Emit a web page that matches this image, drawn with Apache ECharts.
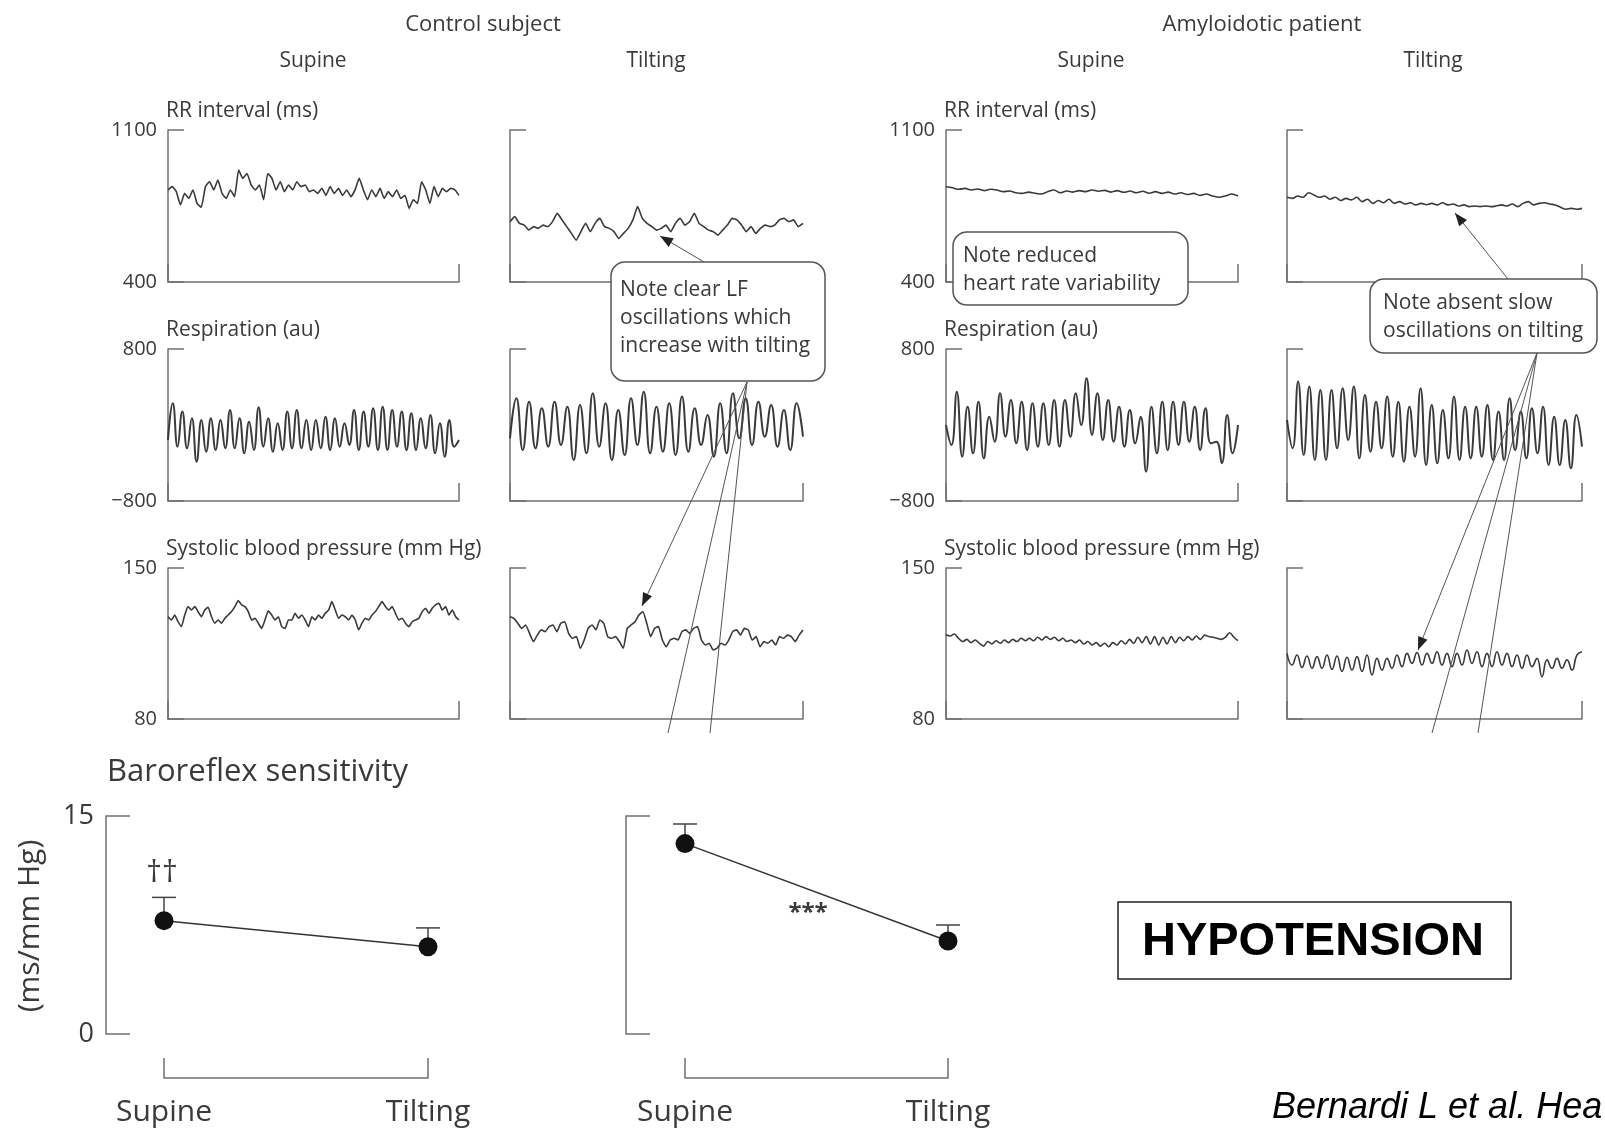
<!DOCTYPE html>
<html>
<head>
<meta charset="utf-8">
<script src="https://cdn.jsdelivr.net/npm/echarts@6/dist/echarts.min.js"></script>
<style>
html,body{margin:0;padding:0;background:#fff;}
#chart{width:1605px;height:1128px;}
</style>
</head>
<body>
<div id="chart"></div>
<script>
// ---- traces (evenly spaced samples) ----
// RR interval, ms
var rrControlSupine = [824,839,816,755,808,785,824,762,744,839,862,824,870,808,785,824,793,916,877,900,847,824,847,779,900,877,824,862,816,847,824,862,839,847,816,824,808,831,799,839,808,831,799,824,793,824,877,824,779,824,793,831,785,816,793,824,785,799,739,779,762,862,824,762,839,793,831,816,831,824,799];
var rrControlTilt = [678,701,670,662,639,655,647,662,655,678,716,686,655,624,593,632,670,632,670,693,655,647,632,601,624,647,686,747,693,670,655,639,647,662,632,670,693,662,678,716,670,655,639,632,616,639,662,693,686,662,632,655,624,647,662,655,662,686,693,678,686,655,670];
var rrAmyloidSupine = [839,834,827,831,824,828,821,827,824,816,819,811,808,814,809,805,816,824,811,819,814,821,816,824,818,822,814,821,813,819,811,818,809,816,808,814,805,811,803,808,799,805,796,790,796,805,796];
var rrAmyloidTilt = [790,785,796,790,811,801,790,796,781,790,775,785,778,790,770,781,762,775,765,781,762,770,759,765,755,762,756,762,755,765,755,759,750,755,747,750,747,750,747,750,755,750,759,747,762,770,755,762,765,759,755,744,735,739,735,739];
// respiration, au (peaks and troughs)
var respControlSupine = [-158,228,-228,141,-245,71,-386,53,-281,71,-263,53,-245,158,-245,71,-298,35,-263,186,-228,71,-281,18,-263,141,-245,158,-245,53,-263,53,-245,88,-263,71,-228,18,-210,158,-263,141,-228,176,-263,193,-263,158,-228,141,-263,123,-263,71,-245,106,-298,18,-333,53,-228,-158];
var respControlTilt = [-140,281,-263,246,-245,176,-228,246,-210,193,-368,211,-298,334,-228,228,-368,158,-316,281,-210,351,-298,193,-281,228,-316,299,-281,176,-210,106,-333,228,-298,334,-140,281,-210,246,-123,211,-228,158,-263,228,-123];
var respAmyloidSupine = [0,-210,351,-333,193,-298,246,-351,88,-175,334,-123,264,-193,246,-263,228,-228,228,-210,264,-228,264,-123,334,0,492,-105,334,-158,264,-175,193,-228,158,-193,88,-491,193,-298,246,-263,246,-210,246,-175,193,-263,176,-193,-175,-403,106,-298,0];
var respAmyloidTilt = [53,-245,457,-316,404,-368,369,-368,369,-245,386,-158,404,-351,316,-281,246,-245,299,-333,246,-386,193,-333,386,-421,211,-403,158,-351,299,-368,193,-351,193,-333,211,-368,141,-368,281,-263,141,-351,176,-298,193,-421,88,-421,53,-456,106,-228];
// systolic blood pressure, mmHg
var sbpControlSupine = [127.4,125.9,128.2,125.1,122.8,128.2,132.1,130.5,132.1,129.8,127.4,130.5,131.8,127.4,124.4,125.9,124.4,126.7,128.2,129.8,132.1,134.9,132.9,132.1,129.8,125.9,126.7,124.4,122.0,125.9,130.2,128.2,125.9,127.4,122.8,122.0,125.9,125.9,129.0,126.7,128.2,125.9,122.8,127.4,125.9,128.2,126.7,129.0,130.5,134.4,130.5,126.7,128.2,127.4,125.9,128.2,125.9,121.3,124.4,126.7,125.9,128.2,129.8,132.1,134.4,132.1,130.5,132.1,129.0,125.9,126.7,124.4,122.8,125.1,125.9,126.7,129.8,131.3,129.0,131.3,132.9,133.6,130.5,132.1,128.2,130.5,127.4,125.9];
var sbpControlTilt = [127.4,126.7,124.4,122.0,123.6,119.7,115.9,118.9,121.3,120.5,122.8,123.6,120.5,124.4,125.1,119.7,117.4,118.2,112.8,116.6,122.0,123.6,121.3,125.9,124.4,118.2,117.4,118.2,115.9,112.8,122.0,123.6,125.1,128.2,129.8,124.4,118.2,122.0,122.8,116.6,113.5,116.6,117.4,116.6,120.5,121.3,119.7,122.0,122.8,116.6,114.3,115.1,112.0,112.8,115.1,114.3,116.6,120.5,121.3,118.9,122.0,121.3,116.6,118.2,113.5,115.9,115.1,116.6,114.3,118.2,117.4,118.9,118.2,115.9,118.9,121.3];
var sbpAmyloidSupine = [118.9,118.5,119.4,117.4,115.9,116.9,115.4,116.6,115.1,113.8,115.9,114.8,116.3,115.1,116.6,115.4,116.9,115.9,117.4,116.3,117.4,116.3,117.9,116.6,118.2,116.9,117.9,116.3,117.4,115.9,116.6,115.4,116.6,114.8,115.9,114.3,115.4,113.8,115.1,113.5,115.4,114.3,116.3,114.8,116.9,115.1,117.9,115.4,118.2,114.8,118.2,114.3,117.9,114.8,118.2,115.4,117.9,116.3,118.2,116.6,118.5,116.9,118.9,118.2,117.9,117.4,116.9,117.9,120.0,117.9,116.3];
var sbpAmyloidTilt = [110.4,105.0,109.7,103.9,109.2,103.5,108.9,103.5,109.7,103.0,109.2,102.0,108.6,102.7,108.9,102.0,109.7,100.4,108.1,102.7,108.1,103.5,109.7,104.3,110.4,105.8,110.8,105.0,110.4,105.8,111.2,105.0,110.4,104.3,110.4,105.0,112.0,105.8,111.2,104.3,110.4,104.3,111.2,105.0,110.4,104.3,109.7,103.5,109.7,104.3,108.1,99.6,107.4,103.5,108.1,103.5,107.4,102.7,109.7,111.2];

// axis ranges and labels
var traceNames = ['RR interval (ms)', 'Respiration (au)', 'Systolic blood pressure (mm Hg)'];
var traceMin = [400, -800, 80];
var traceMax = [1100, 800, 150];

// baroreflex sensitivity (ms/mm Hg), mean and upper error
var brsCategories = ['Supine', 'Tilting'];
var brsLeftMean = [7.8, 6.0];
var brsLeftErr = [1.6, 1.3];
var brsRightMean = [13.1, 6.4];
var brsRightErr = [1.35, 1.1];

// ---- layout ----
var INK = '#3a3a3a', AX = '#707070', FONT = '"Open Sans"';
var cols = [{l:168,r:459},{l:510,r:803},{l:946,r:1238},{l:1287,r:1582}];
var rows = [{t:130,b:282},{t:349,b:501},{t:568,b:719}];
var traces = [
  [rrControlSupine, rrControlTilt, rrAmyloidSupine, rrAmyloidTilt],
  [respControlSupine, respControlTilt, respAmyloidSupine, respAmyloidTilt],
  [sbpControlSupine, sbpControlTilt, sbpAmyloidSupine, sbpAmyloidTilt]
];
var smoothing = [[0.15,0.15,0.3,0.3],[0.5,0.5,0.5,0.5],[0.15,0.15,0.3,0.5]];
var widths = [1.6, 2, 1.6];

var grids = [], xAxes = [], yAxes = [], series = [], gfx = [];

function tickText(v){ return String(v).replace('-', '\u2212'); }

rows.forEach(function(rw, r){
  cols.forEach(function(cl, c){
    var i = grids.length, arr = traces[r][c];
    grids.push({left:cl.l, top:rw.t, width:cl.r-cl.l, height:rw.b-rw.t});
    xAxes.push({gridIndex:i, type:'value', min:0, max:arr.length-1, interval:arr.length-1,
      axisLine:{show:true, onZero:false, lineStyle:{color:AX, width:1.5}},
      axisTick:{show:true, inside:true, length:18, lineStyle:{color:AX, width:1.5}},
      axisLabel:{show:false}, splitLine:{show:false}});
    yAxes.push({gridIndex:i, type:'value', min:traceMin[r], max:traceMax[r], interval:traceMax[r]-traceMin[r],
      axisLine:{show:true, onZero:false, lineStyle:{color:AX, width:1.5}},
      axisTick:{show:true, inside:true, length:16, lineStyle:{color:AX, width:1.5}},
      axisLabel:{show:(c===0||c===2), color:INK, fontFamily:FONT, fontSize:20, margin:11, formatter:tickText},
      splitLine:{show:false}});
    series.push({type:'line', xAxisIndex:i, yAxisIndex:i, symbol:'none', smooth:smoothing[r][c],
      lineStyle:{color:INK, width:widths[r]}, silent:true,
      data:arr.map(function(v,k){return [k,v];})});
    if(c===0||c===2){
      gfx.push({type:'text', x:cl.l-2, y:rw.t-19, z:50,
        style:{text:traceNames[r], fill:INK, font:'21px '+FONT, textVerticalAlign:'middle'}});
    }
  });
});

// baroreflex panels
var brsPanels = [
  {left:164, width:264, offset:58, mean:brsLeftMean, err:brsLeftErr, labels:true},
  {left:685, width:263, offset:59, mean:brsRightMean, err:brsRightErr, labels:false}
];
brsPanels.forEach(function(p){
  var i = grids.length;
  grids.push({left:p.left, top:816, width:p.width, height:218});
  xAxes.push({gridIndex:i, type:'value', min:0, max:1, interval:1, offset:44,
    axisLine:{show:true, onZero:false, lineStyle:{color:AX, width:1.5}},
    axisTick:{show:true, inside:true, length:20, lineStyle:{color:AX, width:1.5}},
    axisLabel:{color:INK, fontFamily:FONT, fontSize:30, margin:19,
      formatter:function(v){return brsCategories[v];}},
    splitLine:{show:false}});
  yAxes.push({gridIndex:i, type:'value', min:0, max:15, interval:15, offset:p.offset,
    axisLine:{show:true, onZero:false, lineStyle:{color:AX, width:1.5}},
    axisTick:{show:true, inside:true, length:24, lineStyle:{color:AX, width:1.5}},
    axisLabel:{show:p.labels, color:INK, fontFamily:FONT, fontSize:27, margin:12},
    splitLine:{show:false}});
  series.push({type:'custom', xAxisIndex:i, yAxisIndex:i, clip:false, silent:true, z:2,
    data:p.mean.map(function(m,k){return [k, m, p.err[k]];}),
    renderItem:function(params, api){
      var a = api.coord([api.value(0), api.value(1)]);
      var b = api.coord([api.value(0), api.value(1)+api.value(2)]);
      var st = {stroke:'#444', lineWidth:1.5};
      return {type:'group', children:[
        {type:'line', shape:{x1:a[0], y1:a[1], x2:b[0], y2:b[1]}, style:st},
        {type:'line', shape:{x1:b[0]-12, y1:b[1], x2:b[0]+12, y2:b[1]}, style:st}
      ]};
    }});
  series.push({type:'line', xAxisIndex:i, yAxisIndex:i, z:3, silent:true,
    symbol:'circle', symbolSize:19, itemStyle:{color:'#111'},
    lineStyle:{color:'#333', width:1.5},
    data:p.mean.map(function(m,k){return [k,m];})});
});

// headers
function txt(x, y, s, font, align, extra){
  var o = {type:'text', x:x, y:y, z:60,
    style:{text:s, fill:INK, font:font, textAlign:align||'center', textVerticalAlign:'middle'}};
  if(extra){ for(var k in extra) o[k]=extra[k]; }
  return o;
}
gfx.push(txt(483, 25, 'Control subject', '22px '+FONT));
gfx.push(txt(313, 61, 'Supine', '21px '+FONT));
gfx.push(txt(656, 61, 'Tilting', '21px '+FONT));
gfx.push(txt(1262, 25, 'Amyloidotic patient', '22px '+FONT));
gfx.push(txt(1091, 61, 'Supine', '21px '+FONT));
gfx.push(txt(1433, 61, 'Tilting', '21px '+FONT));
gfx.push(txt(107, 772, 'Baroreflex sensitivity', '31px '+FONT, 'left'));
gfx.push(txt(30, 926, '(ms/mm Hg)', '30px '+FONT, 'center', {rotation:Math.PI/2}));
gfx.push(txt(162, 873, '††', '31px '+FONT));
gfx.push(txt(808, 913, '***', 'bold 24px '+FONT));

// callout boxes
function box(x, y, w, h, lines, tx, ty){
  gfx.push({type:'rect', z:70, shape:{x:x, y:y, width:w, height:h, r:14},
    style:{fill:'#fff', stroke:'#555', lineWidth:1.5}});
  lines.forEach(function(s, k){
    gfx.push({type:'text', z:71, x:tx, y:ty+k*28,
      style:{text:s, fill:INK, font:'21px '+FONT, textVerticalAlign:'middle'}});
  });
}
box(611, 262, 214, 119, ['Note clear LF', 'oscillations which', 'increase with tilting'], 620, 290);
box(953, 232, 235, 73, ['Note reduced', 'heart rate variability'], 963, 256);
box(1370, 279, 227, 74, ['Note absent slow', 'oscillations on tilting'], 1383, 303);

// pointer lines and arrows
function seg(x1, y1, x2, y2){
  gfx.push({type:'line', z:65, shape:{x1:x1, y1:y1, x2:x2, y2:y2}, style:{stroke:'#555', lineWidth:1}});
}
function arrow(x1, y1, x2, y2){
  seg(x1, y1, x2, y2);
  var a = Math.atan2(y2-y1, x2-x1), L = 13, W = 5;
  var bx = x2 - L*Math.cos(a), by = y2 - L*Math.sin(a);
  gfx.push({type:'polygon', z:66, shape:{points:[[x2,y2],
    [bx + W*Math.sin(a), by - W*Math.cos(a)], [bx - W*Math.sin(a), by + W*Math.cos(a)]]},
    style:{fill:'#222'}});
}
arrow(704, 262, 660, 236);
arrow(747, 382, 642, 606);
seg(747, 382, 668, 733);
seg(747, 382, 710, 733);
arrow(1508, 279, 1455, 213);
arrow(1537, 353, 1418, 650);
seg(1537, 353, 1432, 733);
seg(1537, 353, 1478, 733);

// hypotension label and citation
gfx.push({type:'rect', z:60, shape:{x:1118, y:902, width:393, height:77},
  style:{fill:'#fff', stroke:'#222', lineWidth:1.5}});
gfx.push({type:'text', z:61, x:1313, y:942,
  style:{text:'HYPOTENSION', fill:'#000', font:'bold 47px "Liberation Sans", Arial',
    textAlign:'center', textVerticalAlign:'middle'}});
gfx.push({type:'text', z:61, x:1272, y:1108,
  style:{text:'Bernardi L et al. Hea', fill:'#000', font:'italic 36px "Liberation Sans", Arial',
    textVerticalAlign:'middle'}});

var chart = echarts.init(document.getElementById('chart'));
chart.setOption({
  animation:false,
  backgroundColor:'#fff',
  grid:grids, xAxis:xAxes, yAxis:yAxes, series:series,
  graphic:{elements:gfx}
});
</script>
</body>
</html>
